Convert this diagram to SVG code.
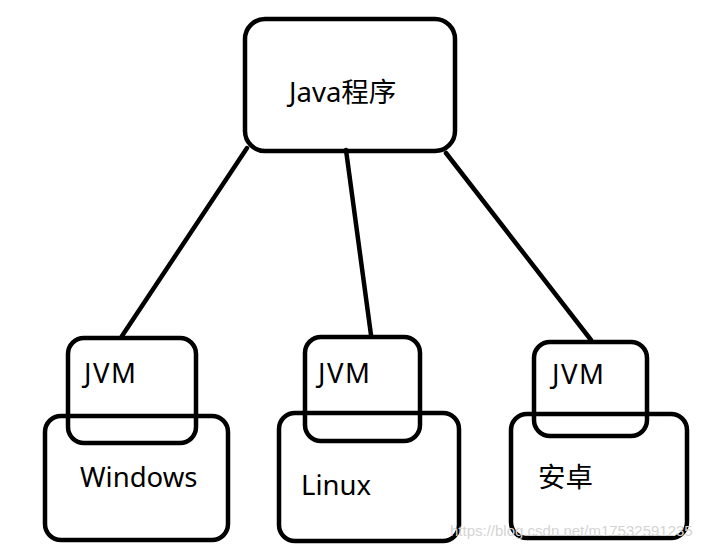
<svg xmlns="http://www.w3.org/2000/svg" width="717" height="549" viewBox="0 0 717 549">
<style>
.box{fill:none;stroke:#000;stroke-width:4.5}
.lbl{font-family:"Noto Sans","Noto Sans CJK SC",sans-serif;font-size:27.5px;fill:#000}
.jvm{letter-spacing:1.5px}
.edge{stroke:#000;stroke-width:4.5;fill:none;stroke-linecap:round}
.wm{font-family:"Liberation Sans",Arial,sans-serif;font-size:15px;fill:#d4d4d4}
</style>
<rect width="717" height="549" fill="#fff"/>
<g id="connectors">
<line class="edge" x1="247" y1="148" x2="122" y2="336"/>
<line class="edge" x1="346" y1="150" x2="371" y2="335"/>
<line class="edge" x1="446" y1="153" x2="591" y2="340"/>
</g>
<g id="java">
<rect class="box" x="245" y="19" width="210" height="132" rx="20"/>
<text class="lbl" x="289" y="102">Java程序</text>
</g>
<g id="windows">
<rect class="box" x="45" y="416" width="183" height="124" rx="16"/>
<text class="lbl" x="80" y="487">Windows</text>
</g>
<g id="jvm1">
<rect class="box" x="68" y="338" width="128" height="105" rx="16"/>
<text class="lbl jvm" x="84" y="383">JVM</text>
</g>
<g id="linux">
<rect class="box" x="279" y="413" width="180" height="128" rx="16"/>
<text class="lbl" x="301" y="495">Linux</text>
</g>
<g id="jvm2">
<rect class="box" x="305" y="337" width="115" height="104" rx="16"/>
<text class="lbl jvm" x="318" y="383">JVM</text>
</g>
<g id="android">
<rect class="box" x="511" y="414" width="176" height="124" rx="16"/>
<text class="lbl" x="538" y="487">安卓</text>
</g>
<g id="jvm3">
<rect class="box" x="534" y="342" width="113" height="94" rx="16"/>
<text class="lbl jvm" x="552" y="384">JVM</text>
</g>
<text class="wm" x="450" y="536">https://blog.csdn.net/m17532591235</text>
</svg>
